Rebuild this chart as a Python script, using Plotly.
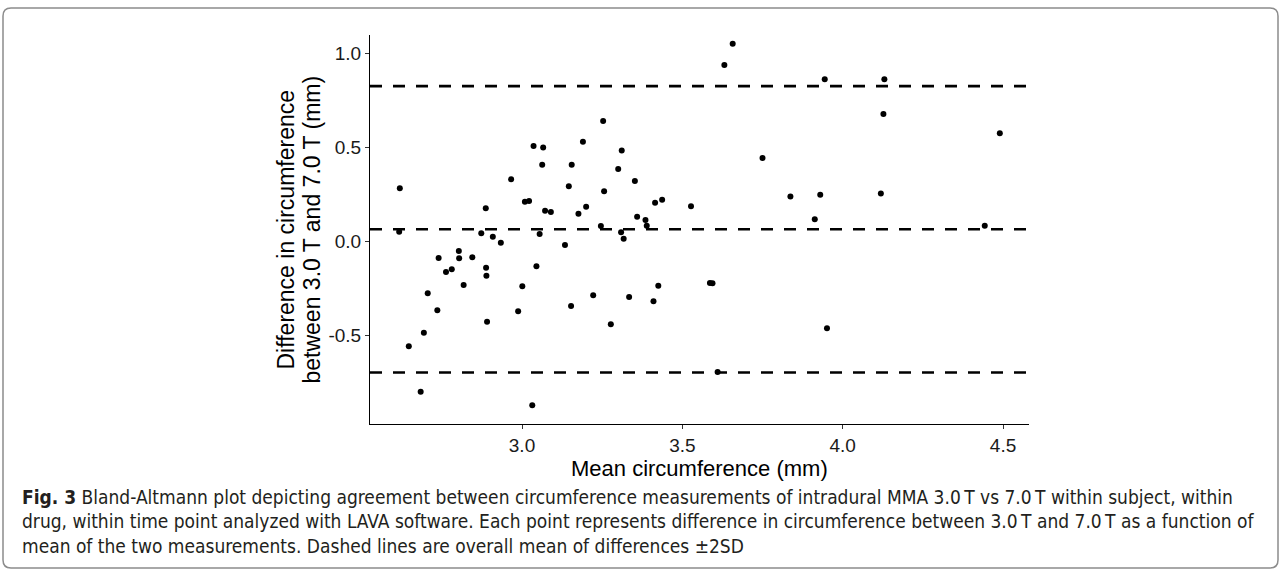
import plotly.graph_objects as go

# ---- data ----
mean_circ = [2.619, 2.887, 2.966, 3.009, 3.022, 3.036, 3.066, 3.063, 3.072, 3.090,
             3.146, 3.155, 3.190, 3.200, 3.176, 2.617, 2.873, 2.909, 2.934, 3.055,
             3.134, 2.803, 2.740, 2.804, 2.845, 2.763, 2.781, 2.888, 2.889, 3.045,
             2.818, 3.001, 2.706, 3.222, 2.736, 2.988, 3.153, 2.891, 2.694, 2.647,
             2.684, 3.032, 3.253, 3.657, 3.631, 3.944, 3.311, 3.300, 3.352, 3.256,
             3.750, 3.415, 3.437, 3.527, 3.837, 3.930, 3.359, 3.385, 3.389, 3.246,
             3.309, 3.317, 3.913, 3.277, 3.334, 3.410, 3.425, 3.586, 3.594, 3.610,
             3.951, 4.130, 4.127, 4.490, 4.119, 4.443]
diff_circ = [0.284, 0.178, 0.332, 0.213, 0.216, 0.509, 0.502, 0.410, 0.165, 0.158,
             0.295, 0.410, 0.532, 0.186, 0.149, 0.053, 0.045, 0.027, -0.005, 0.041,
             -0.018, -0.049, -0.087, -0.088, -0.083, -0.161, -0.147, -0.138, -0.181, -0.131,
             -0.230, -0.237, -0.274, -0.285, -0.365, -0.370, -0.342, -0.426, -0.484, -0.556,
             -0.798, -0.870, 0.642, 1.053, 0.941, 0.864, 0.486, 0.387, 0.323, 0.268,
             0.445, 0.207, 0.223, 0.189, 0.241, 0.250, 0.133, 0.115, 0.085, 0.084,
             0.050, 0.016, 0.119, -0.439, -0.294, -0.317, -0.234, -0.220, -0.221, -0.693,
             -0.461, 0.864, 0.679, 0.577, 0.257, 0.085]
limit_lines = [0.828, 0.066, -0.696]   # mean + 2SD, mean, mean - 2SD

x_tickvals = [3.0, 3.5, 4.0, 4.5]
x_ticktext = ["3.0", "3.5", "4.0", "4.5"]
y_tickvals = [-0.5, 0.0, 0.5, 1.0]
y_ticktext = ["-0.5", "0.0", "0.5", "1.0"]
x_range = [2.526, 4.581]
y_range = [-0.970, 1.100]

x_title = "Mean circumference (mm)"
y_title_lines = ["Difference in circumference", "between 3.0 T and 7.0 T (mm)"]
caption_lines = [
    "<b>Fig. 3</b> Bland-Altmann plot depicting agreement between circumference measurements of intradural MMA 3.0\u2009T vs 7.0\u2009T within subject, within",
    "drug, within time point analyzed with LAVA software. Each point represents difference in circumference between 3.0\u2009T and 7.0\u2009T as a function of",
    "mean of the two measurements. Dashed lines are overall mean of differences \u00b12SD",
]

# ---- layout geometry (pixels) ----
W, H = 1281, 571
L, R, T, B = 370, 252, 35, 147
PW, PH = W - L - R, H - T - B

def px_x(px):
    return (px - L) / PW

def px_y(py):
    return (H - B - py) / PH

fig = go.Figure()
fig.add_trace(go.Scatter(
    x=mean_circ, y=diff_circ, mode="markers",
    marker=dict(color="black", size=6, line=dict(width=0)),
    showlegend=False, hoverinfo="x+y",
))

for v in limit_lines:
    fig.add_shape(type="line", xref="paper", yref="y", x0=0, x1=1, y0=v, y1=v,
                  line=dict(color="black", width=2.6, dash="12px,11px"), layer="above")

# axis titles
fig.add_annotation(text=x_title, xref="paper", yref="paper",
                   x=px_x((L + W - R) / 2), y=px_y(469), xanchor="center", yanchor="middle",
                   showarrow=False, font=dict(size=22, color="black"))
for txt, cx in zip(y_title_lines, [285, 311]):
    fig.add_annotation(text=txt, xref="paper", yref="paper", textangle=-90,
                       x=px_x(cx), y=px_y((T + H - B) / 2), xanchor="center", yanchor="middle",
                       showarrow=False, font=dict(size=23, color="black"))

# caption
cap_y = [497, 521, 546]
for line, cy in zip(caption_lines, cap_y):
    fig.add_annotation(text=line, xref="paper", yref="paper",
                       x=px_x(20), y=px_y(cy), xanchor="left", yanchor="middle",
                       showarrow=False,
                       font=dict(size=19, color="#231f20",
                                 family="Liberation Sans Narrow, DejaVu Sans Condensed, Liberation Sans"))

# rounded border around the whole figure
bx0, bx1, by0, by1, r = px_x(3), px_x(1278), px_y(8), px_y(568), 8
rx, ry = r / PW, r / PH
path = (f"M {bx0 + rx} {by0} L {bx1 - rx} {by0} Q {bx1} {by0} {bx1} {by0 - ry} "
        f"L {bx1} {by1 + ry} Q {bx1} {by1} {bx1 - rx} {by1} "
        f"L {bx0 + rx} {by1} Q {bx0} {by1} {bx0} {by1 + ry} "
        f"L {bx0} {by0 - ry} Q {bx0} {by0} {bx0 + rx} {by0} Z")
fig.add_shape(type="path", xref="paper", yref="paper", path=path,
              line=dict(color="#8c8c8c", width=1.5), fillcolor="rgba(0,0,0,0)")

axis_common = dict(showgrid=False, zeroline=False, showline=True, linecolor="black",
                   linewidth=1, ticks="outside", ticklen=4, tickwidth=1, tickcolor="#333333",
                   tickfont=dict(size=19, color="#1a1a1a", family="Liberation Sans"))
fig.update_xaxes(range=x_range, tickvals=x_tickvals, ticktext=x_ticktext, **axis_common)
fig.update_yaxes(range=y_range, tickvals=y_tickvals, ticktext=y_ticktext, **axis_common)

fig.update_layout(
    width=W, height=H,
    margin=dict(l=L, r=R, t=T, b=B, autoexpand=False),
    paper_bgcolor="white", plot_bgcolor="white",
    font=dict(family="Liberation Sans", color="black"),
)

fig.write_html("out.html")
